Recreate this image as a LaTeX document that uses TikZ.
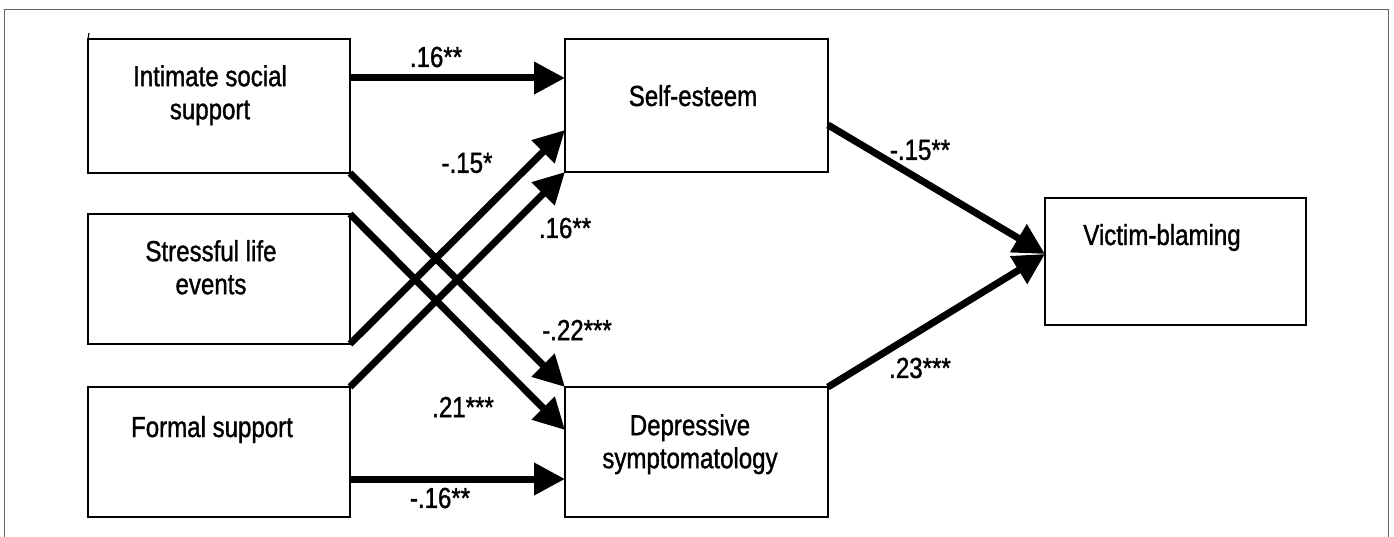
\documentclass[tikz,border=0pt]{standalone}
\usepackage{fontspec}
\setmainfont[FakeStretch=0.83,FakeBold=1.2]{Liberation Sans}
\usetikzlibrary{arrows.meta}
\definecolor{framegray}{RGB}{100,100,100}
\begin{document}
\begin{tikzpicture}[x=1pt,y=-1pt,
  box/.style={draw, line width=2.5pt, rectangle, inner sep=0pt, outer sep=0pt},
  txt/.style={font=\fontsize{29}{33}\selectfont, inner sep=0pt, outer sep=0pt, align=center},
  lbl/.style={font=\fontsize{29}{33}\selectfont, inner sep=0pt, outer sep=0pt},
  arr/.style={line width=7pt, -{Triangle[length=31pt,width=31pt]}},
  framestyle/.style={draw=framegray, line width=1.5pt}
]
\useasboundingbox (0,0) rectangle (1394,537);
% frame (open at the bottom)
\coordinate (fbl) at (4.5,540);
\coordinate (ftl) at (4.5,9.5);
\coordinate (ftr) at (1388.5,9.5);
\coordinate (fbr) at (1388.5,540);
\draw[framestyle] (fbl) -- (ftl) -- (ftr) -- (fbr);

% boxes
\node[box, minimum width=262pt, minimum height=134pt] (iss) at (219,106) {};
\node[box, minimum width=262pt, minimum height=130pt] (sle) at (219,279) {};
\node[box, minimum width=262pt, minimum height=130pt] (fs)  at (219,452) {};
\node[box, minimum width=263pt, minimum height=133pt] (se)  at (696.5,105.5) {};
\node[box, minimum width=263pt, minimum height=130pt] (dep) at (696.5,452) {};
\node[box, minimum width=261pt, minimum height=127pt] (vb)  at (1175.5,261.5) {};

% small tick above the first box
\coordinate (tk1) at (89,33);
\draw[line width=1.2pt] (tk1) -- (iss.north west);

% texts
\node[txt] (tiss) at (210,95.2) {Intimate social\\support};
\node[txt] (tsle) at (211,267.3) {Stressful life\\events};
\node[lbl, anchor=base] (tfs) at (212,437) {Formal support};
\node[lbl, anchor=base] (tse) at (693,106) {Self-esteem};
\node[txt] (tdep) at (690,444.2) {Depressive\\symptomatology};
\node[lbl, anchor=base] (tvb) at (1162,245) {Victim-blaming};

% attachment points
\coordinate (iss-o) at (350,78);
\coordinate (se-i1) at (565,78);
\coordinate (se-i2) at (565,130);
\coordinate (dep-i2) at (565,430);
\coordinate (fs-o) at (350,479);
\coordinate (dep-i3) at (565,479);
\coordinate (se-o) at (828,125);
\coordinate (vb-i) at (1045,254);

% connectors
\draw[arr] (iss-o) -- (se-i1);
\draw[arr] (iss.south east) -- (dep.north west);
\draw[arr] (sle.north east) -- (dep-i2);
\draw[arr] (sle.south east) -- (se-i2);
\draw[arr] (fs.north east) -- (se.south west);
\draw[arr] (fs-o) -- (dep-i3);
\draw[arr] (se-o) -- (vb-i);
\draw[arr] (dep.north east) -- (vb-i);

% coefficients
\node[lbl] (c1) at (436,57) {.16**};
\node[lbl] (c2) at (467,163) {-.15*};
\node[lbl] (c3) at (565,228) {.16**};
\node[lbl] (c4) at (577,330) {-.22***};
\node[lbl] (c5) at (463,407) {.21***};
\node[lbl] (c6) at (440,498) {-.16**};
\node[lbl] (c7) at (920,150) {-.15**};
\node[lbl] (c8) at (920,368) {.23***};
\end{tikzpicture}
\end{document}
